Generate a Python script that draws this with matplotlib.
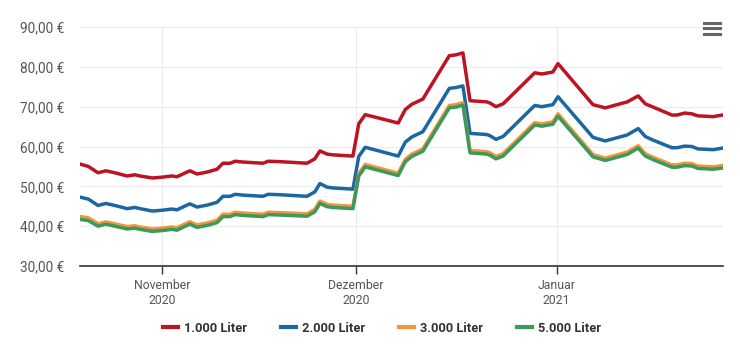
import matplotlib
matplotlib.use("Agg")
from matplotlib import pyplot as plt
from matplotlib.lines import Line2D

plt.rcParams['font.family'] = ['Roboto', 'DejaVu Sans']

# days relative to 1 Nov 2020
days = [-12.7, -11.4, -9.9, -8.7, -7.3, -5.4, -4.2, -3.4, -1.5, 0.0,
        1.5, 2.3, 3.6, 4.3, 5.4, 7.0, 8.5, 9.4, 10.5, 11.3,
        12.5, 15.6, 16.4, 18.2, 22.4, 23.6, 24.4, 25.5, 26.4, 29.5,
        30.4, 31.4, 36.5, 37.6, 38.6, 40.3, 44.4, 45.4, 46.5, 47.6,
        50.2, 50.7, 51.6, 52.7, 57.6, 58.7, 60.4, 61.2, 66.6, 68.5,
        71.9, 73.6, 74.7, 75.9, 78.8, 79.6, 80.8, 81.9, 82.8, 85.2,
        86.6]

liter_1000 = [55.6, 55.0, 53.4, 53.9, 53.4, 52.6, 52.9, 52.6, 52.1, 52.3,
              52.6, 52.4, 53.4, 53.9, 53.1, 53.6, 54.3, 55.8, 55.8, 56.3,
              56.1, 55.8, 56.3, 56.2, 55.8, 56.9, 58.9, 58.1, 57.9, 57.6,
              65.7, 68.0, 65.9, 69.3, 70.6, 71.9, 82.8, 83.0, 83.5, 71.5,
              71.2, 70.9, 70.0, 70.7, 78.5, 78.2, 78.7, 80.8, 70.5, 69.7,
              71.2, 72.7, 70.7, 69.9, 67.9, 67.9, 68.4, 68.2, 67.7, 67.5,
              67.9]

liter_2000 = [47.3, 46.8, 45.2, 45.7, 45.2, 44.4, 44.7, 44.4, 43.8, 44.0,
              44.3, 44.1, 45.1, 45.6, 44.8, 45.3, 46.0, 47.5, 47.5, 48.0,
              47.8, 47.5, 48.0, 47.9, 47.5, 48.6, 50.7, 49.8, 49.6, 49.3,
              57.5, 59.8, 57.6, 61.1, 62.4, 63.7, 74.6, 74.8, 75.2, 63.3,
              63.0, 62.7, 61.8, 62.5, 70.3, 70.0, 70.5, 72.5, 62.3, 61.4,
              62.9, 64.5, 62.5, 61.6, 59.7, 59.7, 60.1, 60.0, 59.4, 59.2,
              59.6]

liter_3000 = [42.4, 42.1, 40.6, 41.1, 40.6, 39.9, 40.1, 39.8, 39.3, 39.5,
              39.8, 39.6, 40.6, 41.1, 40.3, 40.8, 41.5, 43.0, 43.0, 43.5,
              43.3, 43.0, 43.5, 43.4, 43.1, 44.2, 46.3, 45.5, 45.3, 45.0,
              53.2, 55.5, 53.3, 56.8, 58.1, 59.4, 70.3, 70.5, 71.0, 59.0,
              58.7, 58.4, 57.5, 58.2, 66.0, 65.7, 66.2, 68.2, 58.0, 57.1,
              58.6, 60.2, 58.2, 57.3, 55.4, 55.4, 55.8, 55.7, 55.1, 54.9,
              55.2]

liter_5000 = [41.7, 41.4, 40.0, 40.5, 40.0, 39.3, 39.5, 39.2, 38.7, 38.9,
              39.2, 39.0, 40.0, 40.5, 39.7, 40.2, 40.9, 42.4, 42.4, 42.9,
              42.7, 42.4, 42.9, 42.8, 42.5, 43.6, 45.7, 44.9, 44.7, 44.4,
              52.6, 54.9, 52.7, 56.2, 57.5, 58.8, 69.7, 69.9, 70.4, 58.4,
              58.1, 57.8, 56.9, 57.6, 65.4, 65.1, 65.6, 67.6, 57.4, 56.5,
              58.0, 59.6, 57.6, 56.7, 54.8, 54.8, 55.2, 55.1, 54.5, 54.3,
              54.6]

month_ticks = [0, 30, 61]
month_labels = ['November\n2020', 'Dezember\n2020', 'Januar\n2021']
y_ticks = [30, 40, 50, 60, 70, 80, 90]

#-----------------------------------------------------------------------------#
fig = plt.figure(figsize=(7.40, 3.48), dpi=100)
ax = fig.add_axes([0.108, 0.2356, 0.869, 0.6868])

ax.plot(days, liter_1000, color='#bb1422', lw=2.5, label='1.000 Liter', solid_joinstyle='round')
ax.plot(days, liter_2000, color='#1b67a3', lw=2.5, label='2.000 Liter', solid_joinstyle='round')
ax.plot(days, liter_3000, color='#f2953e', lw=2.5, label='3.000 Liter', solid_joinstyle='round')
ax.plot(days, liter_5000, color='#3b9a5a', lw=2.5, label='5.000 Liter', solid_joinstyle='round')

ax.set_xlim(-12.7, 86.7)
ax.set_ylim(30, 90)
ax.set_yticks(y_ticks)
ax.set_yticklabels(['%d,00 €' % v for v in y_ticks])
ax.set_xticks(month_ticks)
ax.set_xticklabels(month_labels)

ax.grid(True, color='#ececec', lw=0.9)
ax.set_axisbelow(True)
for s in ['top', 'right', 'left']:
    ax.spines[s].set_visible(False)
ax.spines['bottom'].set_color('#333333')
ax.spines['bottom'].set_linewidth(1.2)

ax.tick_params(axis='y', length=0, pad=11, labelsize=9.8, labelcolor='#555555')
ax.tick_params(axis='x', length=6, width=1, color='#333333', pad=3,
               labelsize=8.8, labelcolor='#555555')

leg = fig.legend(loc='center', bbox_to_anchor=(0.516, 0.057), ncol=4, frameon=False,
                 handlelength=1.2, handletextpad=0.45, columnspacing=2.6,
                 prop={'weight': 'bold', 'size': 9.3})
for t in leg.get_texts():
    t.set_color('#333333')
for h in leg.get_lines():
    h.set_linewidth(3)

# menu icon top right
for yy in [0.935, 0.919, 0.903]:
    fig.add_artist(Line2D([0.951, 0.973], [yy, yy], color='#666666', lw=2.2,
                          transform=fig.transFigure))

fig.savefig('out.png', dpi=100)
